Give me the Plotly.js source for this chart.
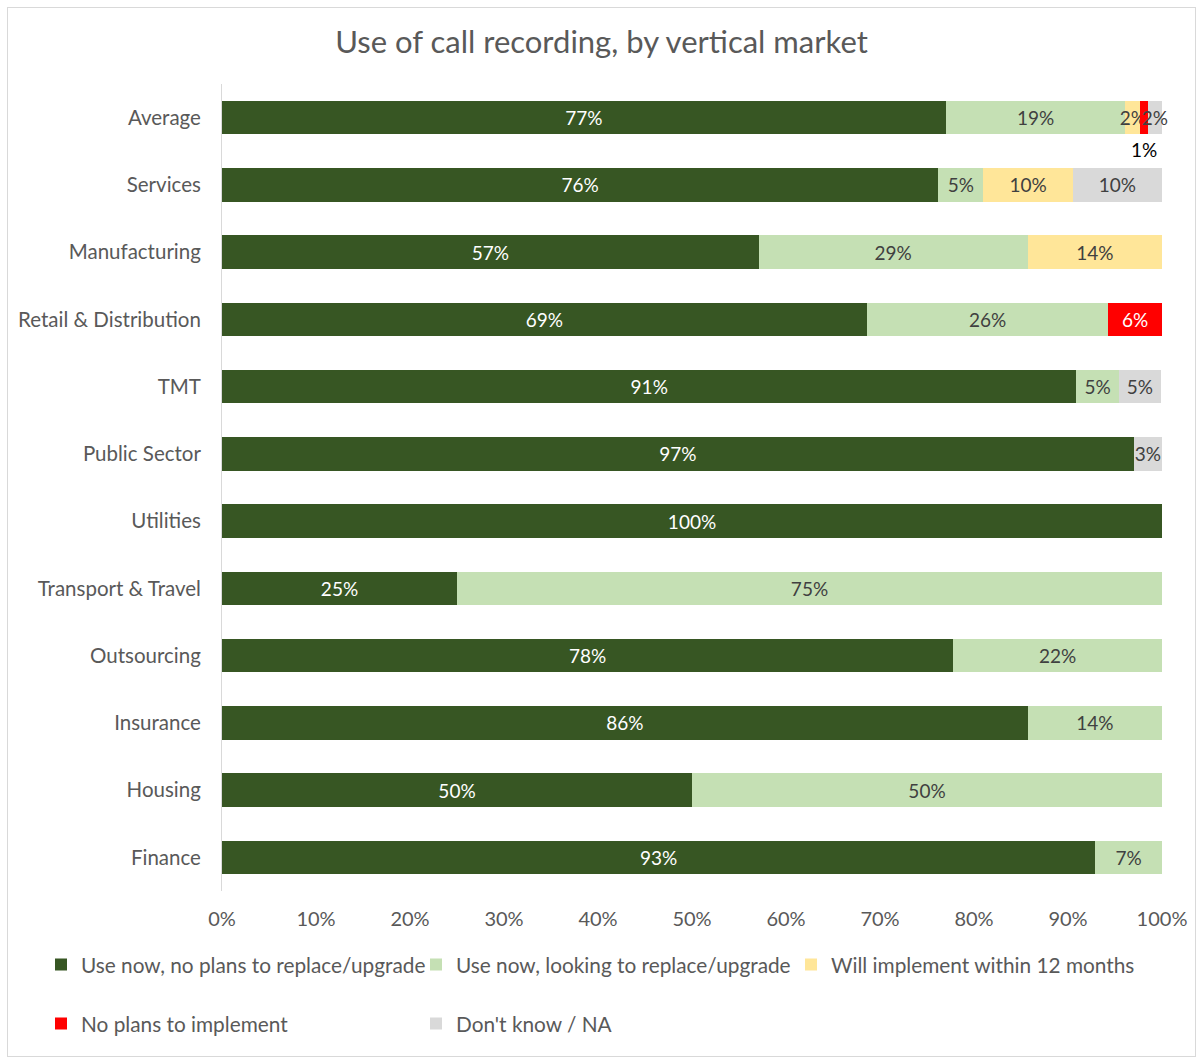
<!DOCTYPE html>
<html>
<head>
<meta charset="utf-8">
<script src="https://cdn.plot.ly/plotly-3.0.1.min.js"></script>
<style>
  html, body { margin: 0; padding: 0; background: #fff; }
  #chart { width: 1203px; height: 1060px; }
  #frame { position: absolute; left: 7px; top: 7px; width: 1189px; height: 1050px; border: 1px solid #D9D9D9; pointer-events: none; box-sizing: border-box; }
</style>
</head>
<body>
<div id="chart"></div>
<div id="frame"></div>
<script>
const categories = ["Average", "Services", "Manufacturing", "Retail & Distribution", "TMT", "Public Sector",
  "Utilities", "Transport & Travel", "Outsourcing", "Insurance", "Housing", "Finance"];

const useNoPlans   = [77.0, 76.2, 57.1, 68.6, 90.9, 97.0, 100, 25, 77.8, 85.7, 50, 92.9];
const useReplace   = [19.1, 4.8, 28.6, 25.7, 4.5, 0, 0, 75, 22.2, 14.3, 50, 7.1];
const willImpl     = [1.6, 9.5, 14.3, 0, 0, 0, 0, 0, 0, 0, 0, 0];
const noPlansImpl  = [0.8, 0, 0, 5.7, 0, 0, 0, 0, 0, 0, 0, 0];
const dontKnow     = [1.5, 9.5, 0, 0, 4.5, 3.0, 0, 0, 0, 0, 0, 0];

const seriesNames = ["Use now, no plans to replace/upgrade", "Use now, looking to replace/upgrade",
  "Will implement within 12 months", "No plans to implement", "Don't know / NA"];
const seriesData = [useNoPlans, useReplace, willImpl, noPlansImpl, dontKnow];
const colors = ["#375623", "#C5E0B4", "#FFE699", "#FF0000", "#D9D9D9"];
const textColors = ["#FFFFFF", "#404040", "#404040", "#FFFFFF", "#404040"];
const xTickVals = [0, 10, 20, 30, 40, 50, 60, 70, 80, 90, 100];
const xTickText = xTickVals.map(v => v + "%");

const FONT = "Lato, 'Open Sans', sans-serif";
const legendIds = ["legend", "legend2", "legend3", "legend4", "legend5"];
// legend item anchor positions in container pixels (left edge, row centre)
const legendPos = [[41, 965], [416, 965], [791, 965], [41, 1024], [416, 1024]];

const traces = seriesData.map((vals, i) => ({
  type: "bar",
  orientation: "h",
  name: seriesNames[i],
  y: categories,
  x: vals,
  marker: { color: colors[i] },
  text: vals.map((v, j) => {
    if (v <= 0) return "";
    if (i === 3 && j === 0) return "";
    return Math.round(v) + "%";
  }),
  textposition: "inside",
  insidetextanchor: "middle",
  constraintext: "none",
  textangle: 0,
  textfont: { family: FONT, size: 19, color: textColors[i] },
  hoverinfo: "name+x",
  legend: legendIds[i],
  cliponaxis: false
}));

const avgRedCenter = useNoPlans[0] + useReplace[0] + willImpl[0] + noPlansImpl[0] / 2;

const layout = {
  width: 1203,
  height: 1060,
  barmode: "stack",
  bargap: 0.5,
  paper_bgcolor: "#FFFFFF",
  plot_bgcolor: "#FFFFFF",
  margin: { l: 222, r: 41, t: 84, b: 169, autoexpand: false },
  font: { family: FONT, size: 19, color: "#595959" },
  title: {
    text: "Use of call recording, by vertical market",
    font: { family: FONT, size: 31, color: "#595959" },
    x: 0.5, xanchor: "center", y: 0.96, yanchor: "middle"
  },
  xaxis: {
    range: [0, 100],
    tickvals: xTickVals,
    ticktext: xTickText,
    showgrid: false,
    zeroline: false,
    showline: false,
    ticks: "",
    automargin: false,
    ticklabelstandoff: 14,
    tickfont: { family: FONT, size: 20, color: "#595959" },
    fixedrange: true
  },
  yaxis: {
    type: "category",
    range: [categories.length - 0.5, -0.5],
    autorange: false,
    showgrid: false,
    zeroline: false,
    showline: true,
    linecolor: "#D9D9D9",
    linewidth: 1,
    ticks: "",
    automargin: false,
    ticklabelstandoff: 16,
    tickfont: { family: FONT, size: 20.5, color: "#595959" },
    fixedrange: true
  },
  showlegend: true,
  annotations: [{
    x: avgRedCenter, y: categories[0], xref: "x", yref: "y",
    text: Math.round(noPlansImpl[0]) + "%",
    showarrow: false, yshift: -32,
    font: { family: FONT, size: 19, color: "#000000" }
  }]
};

legendIds.forEach((id, i) => {
  layout[id] = {
    orientation: "h",
    xref: "container", yref: "container",
    x: legendPos[i][0] / 1203, xanchor: "left",
    y: 1 - legendPos[i][1] / 1060, yanchor: "middle",
    font: { family: FONT, size: 20.8, color: "#595959" },
    bgcolor: "rgba(0,0,0,0)"
  };
});

Plotly.newPlot("chart", traces, layout, { displayModeBar: false, staticPlot: true });
</script>
</body>
</html>
